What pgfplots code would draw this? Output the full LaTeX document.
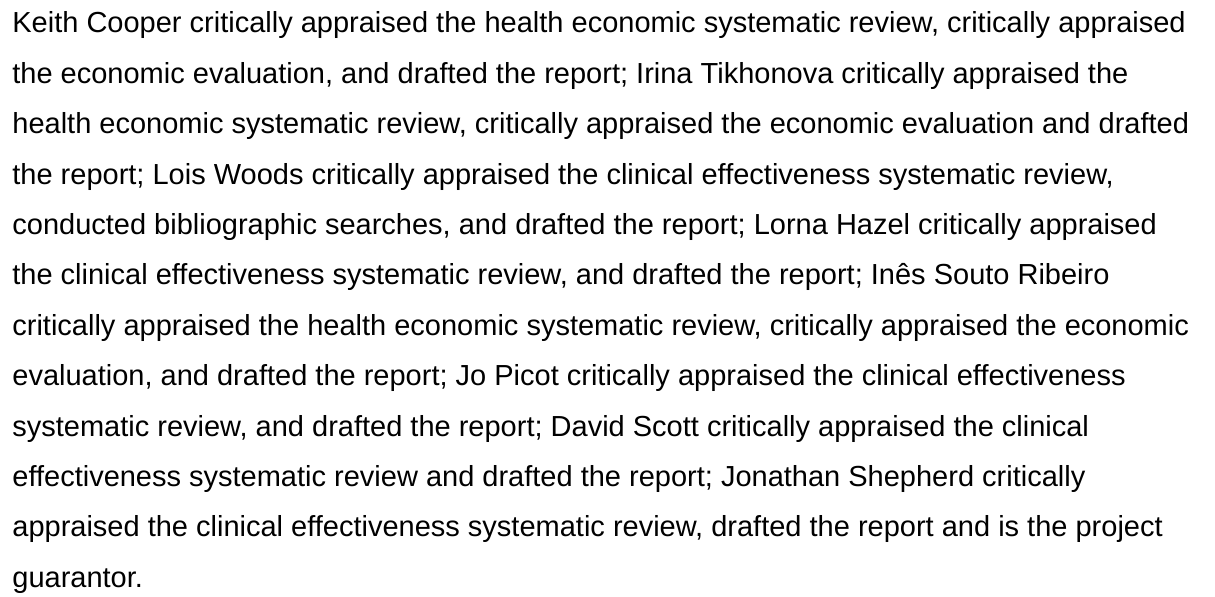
\documentclass[border=0pt]{standalone}
\usepackage{pgfplots}
\pgfplotsset{compat=1.18}
\usepackage{fontspec}
\setmainfont{Liberation Sans}
\newcommand\txtline[2]{\node[anchor=base west, inner sep=0pt, font=\fontsize{14.5pt}{17pt}\selectfont] at (axis cs:12,{597-33-50.4*#1}) {#2};}
\begin{document}
\begin{tikzpicture}
\begin{axis}[
  scale only axis, width=607.5pt, height=298.5pt,
  xmin=0, xmax=1215, ymin=0, ymax=597,
  hide axis, clip=false,
]
\path[use as bounding box, fill=white] (axis cs:0,0) rectangle (axis cs:1215,597);
\txtline{0}{Keith Cooper critically appraised the health economic systematic review, critically appraised}
\txtline{1}{the economic evaluation, and drafted the report; Irina Tikhonova critically appraised the}
\txtline{2}{health economic systematic review, critically appraised the economic evaluation and drafted}
\txtline{3}{the report; Lois Woods critically appraised the clinical effectiveness systematic review,}
\txtline{4}{conducted bibliographic searches, and drafted the report; Lorna Hazel critically appraised}
\txtline{5}{the clinical effectiveness systematic review, and drafted the report; Inês Souto Ribeiro}
\txtline{6}{critically appraised the health economic systematic review, critically appraised the economic}
\txtline{7}{evaluation, and drafted the report; Jo Picot critically appraised the clinical effectiveness}
\txtline{8}{systematic review, and drafted the report; David Scott critically appraised the clinical}
\txtline{9}{effectiveness systematic review and drafted the report; Jonathan Shepherd critically}
\txtline{10}{appraised the clinical effectiveness systematic review, drafted the report and is the project}
\txtline{11}{guarantor.}
\end{axis}
\end{tikzpicture}
\end{document}
